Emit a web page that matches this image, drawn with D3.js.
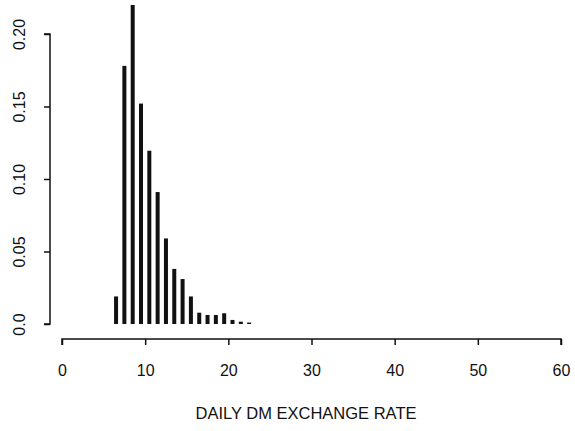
<!DOCTYPE html>
<html>
<head>
<meta charset="utf-8">
<script src="https://cdn.jsdelivr.net/npm/d3@7"></script>
<style>
  html, body { margin: 0; padding: 0; background: #fff; }
  text { font-family: "Liberation Sans", Arial, Helvetica, sans-serif; fill: #111; }
</style>
</head>
<body>
<svg id="chart" width="575" height="431"></svg>
<script>
// Bar positions (bin centres) and relative frequencies
const rates = [6.5, 7.5, 8.5, 9.5, 10.5, 11.5, 12.5, 13.5, 14.5, 15.5, 16.5, 17.5, 18.5, 19.5, 20.5, 21.5, 22.5];
const freqs = [0.019, 0.178, 0.220, 0.152, 0.1195, 0.091, 0.059, 0.038, 0.031, 0.019, 0.0078, 0.0062, 0.0062, 0.0074, 0.0028, 0.0016, 0.001];
const xTicks = [0, 10, 20, 30, 40, 50, 60];
const yTicks = [0, 0.05, 0.10, 0.15, 0.20];
const yTickLabels = ["0.0", "0.05", "0.10", "0.15", "0.20"];
const xTitle = "DAILY DM EXCHANGE RATE";

const svg = d3.select("#chart");
const x = d3.scaleLinear().domain([0, 60]).range([62, 561]);
const y = d3.scaleLinear().domain([0, 0.2]).range([324, 34]);

// bars (spikes)
svg.append("g").selectAll("rect").data(rates).join("rect")
  .attr("x", (d) => x(d) - 2)
  .attr("width", 4)
  .attr("y", (d, i) => y(freqs[i]))
  .attr("height", (d, i) => y(0) - y(freqs[i]))
  .attr("fill", "#111");

// x axis
const xAxisY = 339;
const gx = svg.append("g").attr("transform", `translate(0,${xAxisY})`)
  .call(d3.axisBottom(x).tickValues(xTicks).tickSize(6).tickPadding(20).tickFormat(d3.format("d")));
gx.select(".domain").attr("d", `M${x(0)},6V0H${x(60)}V6`).attr("stroke", "#111").attr("stroke-width", 1.5);
gx.selectAll(".tick line").attr("stroke", "#111").attr("stroke-width", 1.5);
gx.selectAll("text").attr("font-size", 16).attr("font-family", "Liberation Sans, Arial, sans-serif").attr("fill", "#111");

// y axis
const yAxisX = 50;
const gy = svg.append("g").attr("transform", `translate(${yAxisX},0)`)
  .call(d3.axisLeft(y).tickValues(yTicks).tickSize(6).tickPadding(0).tickFormat((d, i) => yTickLabels[i]));
gy.select(".domain").attr("d", `M-6,${y(0.2)}H0V${y(0)}H-6`).attr("stroke", "#111").attr("stroke-width", 1.5);
gy.selectAll(".tick line").attr("stroke", "#111").attr("stroke-width", 1.5);
gy.selectAll(".tick text")
  .attr("x", 0).attr("dy", null)
  .attr("text-anchor", "middle")
  .attr("font-size", 16).attr("font-family", "Liberation Sans, Arial, sans-serif").attr("fill", "#111")
  .attr("transform", "translate(-29,0) rotate(-90)")
  .attr("dominant-baseline", "middle");

// x title
svg.append("text")
  .attr("x", 306)
  .attr("y", 419)
  .attr("text-anchor", "middle")
  .attr("font-size", 16.5)
  .text(xTitle);
</script>
</body>
</html>
